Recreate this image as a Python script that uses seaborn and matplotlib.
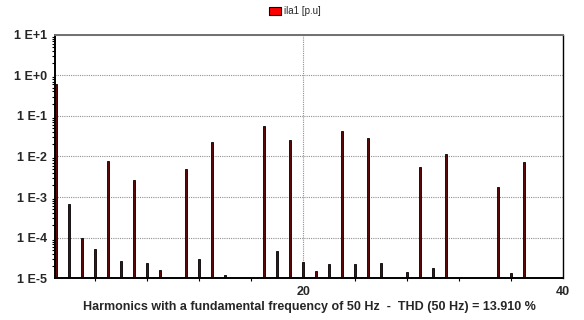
import numpy as np
import pandas as pd
import matplotlib
matplotlib.use("Agg")
import matplotlib.pyplot as plt
from matplotlib.patches import Patch
from matplotlib.ticker import MultipleLocator, LogLocator, NullFormatter
import seaborn as sns

harmonics = list(range(1, 41))
ila1 = [0.62, 6.6e-4, 9.6e-5, 5.2e-5, 7.9e-3, 2.6e-5, 2.6e-3, 2.4e-5, 1.6e-5, 1.0e-5,
        4.9e-3, 3.0e-5, 2.3e-2, 1.2e-5, 1.0e-5, 1.0e-5, 5.6e-2, 4.6e-5, 2.5e-2, 2.5e-5,
        1.5e-5, 2.2e-5, 4.2e-2, 2.2e-5, 2.8e-2, 2.4e-5, 1.0e-5, 1.4e-5, 5.4e-3, 1.8e-5,
        1.18e-2, 1.0e-5, 1.0e-5, 1.0e-5, 1.8e-3, 1.35e-5, 7.5e-3, 1.0e-5, 1.0e-5, 1.0e-5]
ytick_vals = [1e1, 1e0, 1e-1, 1e-2, 1e-3, 1e-4, 1e-5]
ytick_labels = ["1 E+1", "1 E+0", "1 E-1", "1 E-2", "1 E-3", "1 E-4", "1 E-5"]
xtick_vals = [20, 40]
series_name = "ila1 [p.u]"
xlabel = "Harmonics with a fundamental frequency of 50 Hz  -  THD (50 Hz) = 13.910 %"

df = pd.DataFrame({"h": harmonics, "v": ila1})

sns.set_style("white")
plt.rcParams['font.family'] = ['Liberation Sans', 'DejaVu Sans']

fig = plt.figure(figsize=(5.84, 3.2), dpi=100)
ax = fig.add_axes([0.0942, 0.1303, 0.87, 0.7613])

sns.barplot(data=df, x="h", y="v", native_scale=True, width=0.16,
            color="#5a0808", edgecolor="black", linewidth=0.6, saturation=1,
            ax=ax, log_scale=(False, True))

ax.set_yscale("log")
ax.set_ylim(1e-5, 1e1)
ax.set_xlim(0.9, 40)

ax.set_yticks(ytick_vals)
ax.set_yticklabels(ytick_labels, fontsize=9, fontweight="bold")
ax.yaxis.set_minor_locator(LogLocator(base=10, subs=np.arange(2, 10)))
ax.yaxis.set_minor_formatter(NullFormatter())

ax.set_xticks(xtick_vals)
ax.set_xticklabels([str(v) for v in xtick_vals], fontsize=9, fontweight="bold")
ax.xaxis.set_minor_locator(MultipleLocator(4))

ax.tick_params(axis="y", which="major", direction="out", length=4, width=1, color="black", pad=1.5)
ax.tick_params(axis="y", which="minor", direction="out", length=2, width=0.8, color="black", left=True)
ax.tick_params(axis="x", which="major", direction="out", length=4, width=1, color="black", pad=1.5)
ax.tick_params(axis="x", which="minor", direction="out", length=2, width=0.8, color="black", bottom=True)

ax.grid(True, axis="y", which="major", linestyle=(0, (1, 1)), color="#909090", linewidth=0.8)
ax.grid(True, axis="x", which="major", linestyle=(0, (1, 1)), color="#909090", linewidth=0.8)
ax.set_axisbelow(True)

for side in ["left", "bottom"]:
    ax.spines[side].set_color("black")
    ax.spines[side].set_linewidth(1.4)
ax.spines["top"].set_color("#707070")
ax.spines["top"].set_linewidth(1.4)
ax.spines["right"].set_color("black")
ax.spines["right"].set_linewidth(1.0)

ax.set_xlabel(xlabel, fontsize=9, fontweight="bold", labelpad=2)
ax.set_ylabel("")

handle = Patch(facecolor="#ff0000", edgecolor="black", linewidth=0.8)
fig.legend([handle], [series_name], loc="upper center", bbox_to_anchor=(0.505, 1.0),
           frameon=False, fontsize=7, handlelength=1.3, handleheight=0.9,
           handletextpad=0.3, borderaxespad=0.25)

fig.savefig("out.png", dpi=100)
